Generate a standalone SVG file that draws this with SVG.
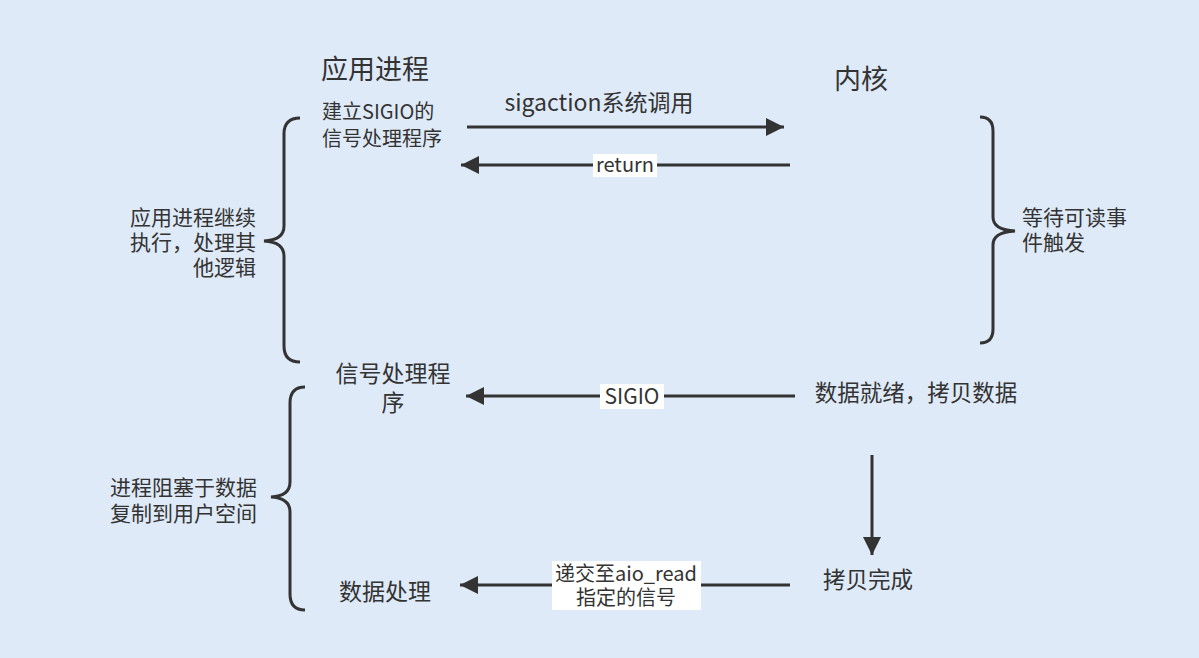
<svg xmlns="http://www.w3.org/2000/svg" width="1199" height="658" viewBox="0 0 1199 658">
<defs>
<style>
text{font-family:"Microsoft YaHei","Noto Sans CJK SC","Noto Sans",sans-serif;fill:#333}
.t25{font-size:27px}
.t23{font-size:23px}
.t22{font-size:22.5px}
.t21{font-size:21px}
.t20{font-size:20px}
.ln{stroke:#333;stroke-width:3;fill:none}
.br{stroke:#333;stroke-width:3;fill:none}
.lbl{fill:#fff}
</style>
<marker id="ah" viewBox="0 0 10 10" refX="10" refY="5" markerWidth="8.5" markerHeight="6" markerUnits="strokeWidth" orient="auto"><path d="M0,0 L10,5 L0,10 z" fill="#333"/></marker>
</defs>
<rect width="1199" height="658" fill="#dfeaf8"/>
<g id="connectors">
<line class="ln" x1="467" y1="127" x2="784" y2="127" marker-end="url(#ah)"/>
<line class="ln" x1="790" y1="165" x2="461" y2="165" marker-end="url(#ah)"/>
<line class="ln" x1="795" y1="396" x2="466" y2="396" marker-end="url(#ah)"/>
<line class="ln" x1="872" y1="455" x2="872" y2="555" marker-end="url(#ah)"/>
<line class="ln" x1="790" y1="585" x2="460" y2="585" marker-end="url(#ah)"/>
<rect class="lbl" x="593" y="154" width="64" height="23"/>
<text class="t20" x="625" y="172" text-anchor="middle">return</text>
<rect class="lbl" x="600" y="384" width="64" height="25"/>
<text class="t21" x="632" y="404" text-anchor="middle">SIGIO</text>
<rect class="lbl" x="552" y="561" width="149" height="49"/>
<text class="t20" text-anchor="middle"><tspan x="626" y="581">递交至aio_read</tspan><tspan x="626" y="605">指定的信号</tspan></text>
<text class="t23" x="599" y="111" text-anchor="middle">sigaction系统调用</text>
</g>
<g id="braces">
<path class="br" d="M300,118 Q284,118 284,134 L284,226 Q284,240 264,241 Q284,242 284,256 L284,346 Q284,362 300,362"/>
<path class="br" d="M980,117 Q993,117 993,131 L993,217 Q993,230 1015,231 Q993,232 993,245 L993,329 Q993,343 980,343"/>
<path class="br" d="M305,387 Q290,387 290,403 L290,482 Q290,496 271,497 Q290,498 290,512 L290,594 Q290,610 305,610"/>
</g>
<g id="app-title"><text class="t25" x="375" y="79" text-anchor="middle">应用进程</text></g>
<g id="kernel-title"><text class="t25" x="861" y="89" text-anchor="middle">内核</text></g>
<g id="setup"><text class="t20"><tspan x="322" y="119">建立SIGIO的</tspan><tspan x="322" y="146">信号处理程序</tspan></text></g>
<g id="app-continue"><text class="t21" text-anchor="end"><tspan x="256" y="225">应用进程继续</tspan><tspan x="256" y="250">执行，处理其</tspan><tspan x="256" y="275">他逻辑</tspan></text></g>
<g id="wait"><text class="t21"><tspan x="1022" y="225">等待可读事</tspan><tspan x="1022" y="250">件触发</tspan></text></g>
<g id="handler"><text class="t23" text-anchor="middle"><tspan x="393" y="382">信号处理程</tspan><tspan x="393" y="411">序</tspan></text></g>
<g id="ready"><text class="t22" x="916" y="401" text-anchor="middle">数据就绪，拷贝数据</text></g>
<g id="blocked"><text class="t21" text-anchor="end"><tspan x="257" y="495">进程阻塞于数据</tspan><tspan x="257" y="521">复制到用户空间</tspan></text></g>
<g id="copied"><text class="t22" x="868" y="588" text-anchor="middle">拷贝完成</text></g>
<g id="process"><text class="t23" x="385" y="600" text-anchor="middle">数据处理</text></g>
</svg>
